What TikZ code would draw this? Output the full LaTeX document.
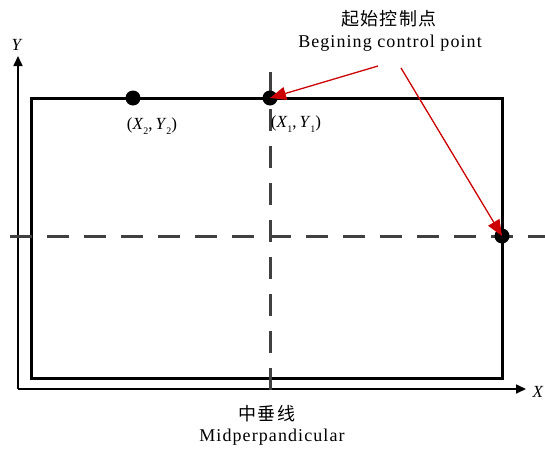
\documentclass[tikz,border=0pt]{standalone}
\usepackage{fontspec}
\setmainfont{Liberation Serif}
\newfontfamily\spaced[LetterSpace=6]{Liberation Serif}
\newfontfamily\cjk[LetterSpace=8]{Noto Sans CJK SC}
\usetikzlibrary{arrows.meta}
\newcommand{\ptlab}[4]{(\textit{#1}\raisebox{-0.3em}{\fontsize{10}{10}\selectfont #2},\,\textit{#3}\raisebox{-0.3em}{\fontsize{10}{10}\selectfont #4})}
\begin{document}
\begin{tikzpicture}[x=1pt,y=-1pt,
  frame/.style={line width=3pt,line join=miter},
  axis/.style={line width=1.6pt,-{Triangle[length=10pt,width=9pt]}},
  dline/.style={line width=3pt,draw=black!75,dash pattern=on 22pt off 15pt},
  dotn/.style={circle,fill=black,inner sep=0pt,minimum size=15pt},
  redarr/.style={draw=red!80!black,line width=1.3pt,-{Triangle[length=16pt,width=13pt]}},
  lbl/.style={inner sep=0pt,font=\fontsize{17}{19}\selectfont},
  txt/.style={inner sep=0pt,font=\spaced\fontsize{18}{20}\selectfont},
  cjkl/.style={inner sep=0pt,font=\cjk\fontsize{18}{20}\selectfont}]
\useasboundingbox (0,0) rectangle (545,450);
% axes
\coordinate (O) at (18,389);
\coordinate (Yend) at (18,56);
\coordinate (Xend) at (526,389);
\draw[axis] (O) -- (Yend);
\draw[axis] (O) -- (Xend);
\node[lbl] (ylab) at (17,45) {\textit{Y}};
\node[lbl] (xlab) at (538,392) {\textit{X}};
% frame
\draw[frame] (31,98) rectangle (502,378);
% dashed lines
\coordinate (vt) at (270,72);
\coordinate (vb) at (270,390);
\coordinate (hl) at (10,236);
\coordinate (hr) at (545,236);
\draw[dline] (vt) -- (vb);
\draw[dline] (hl) -- (hr);
% dots
\node[dotn] (p2) at (133,98) {};
\node[dotn] (p1) at (270,98) {};
\node[dotn] (p3) at (502,236) {};
\node[lbl] (l2) at (152,126) {\ptlab{X}{2}{Y}{2}};
\node[lbl] (l1) at (296,124) {\ptlab{X}{1}{Y}{1}};
% title
\node[cjkl] (t1) at (389,19) {起始控制点};
\node[txt] (t2) at (390,43) {Begining control point};
\coordinate (a1) at (378,66);
\coordinate (a2) at (401,68);
\draw[redarr] (a1) -- (p1.center);
\draw[redarr] (a2) -- (p3.center);
% bottom
\node[cjkl] (b1) at (267,414) {中垂线};
\node[txt] (b2) at (272,437) {Midperpandicular};
\end{tikzpicture}
\end{document}
